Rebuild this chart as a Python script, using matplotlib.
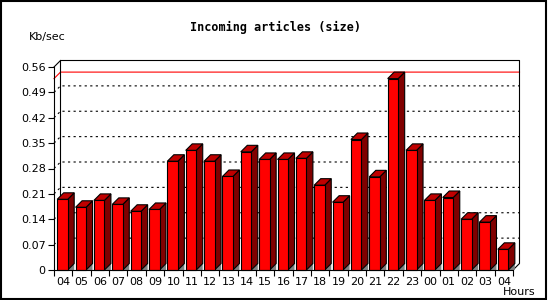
import numpy as np
import matplotlib
matplotlib.use("Agg")
import matplotlib.pyplot as plt
from matplotlib.patches import Polygon, Rectangle

# hours shown on the x axis
hours = ["04", "05", "06", "07", "08", "09", "10", "11", "12", "13", "14", "15",
         "16", "17", "18", "19", "20", "21", "22", "23", "00", "01", "02", "03", "04"]
# incoming article size, Kb/sec
kbps = [0.195, 0.173, 0.192, 0.181, 0.162, 0.167, 0.300, 0.330, 0.300, 0.258,
        0.326, 0.305, 0.305, 0.308, 0.234, 0.187, 0.360, 0.257, 0.528, 0.330,
        0.192, 0.200, 0.140, 0.132, 0.057]
yticks = [0, 0.07, 0.14, 0.21, 0.28, 0.35, 0.42, 0.49, 0.56]
ytick_labels = ["0", "0.07", "0.14", "0.21", "0.28", "0.35", "0.42", "0.49", "0.56"]

W, H = 550, 300
fig = plt.figure(figsize=(W / 100, H / 100), dpi=100)
fig.patch.set_facecolor("white")

# plot area in pixels (front plane)
L, R, T, B = 54, 513, 67, 270
ax = fig.add_axes([L / W, 1 - B / H, (R - L) / W, (B - T) / H])
n = len(kbps)
ymax = yticks[-1]
ax.set_xlim(0, n)
ax.set_ylim(0, ymax)
ax.set_facecolor("none")

# 3d depth (pixels -> data units)
depth = 6.5
dx = depth * n / (R - L)
dy = depth * ymax / (B - T)

lw = 0.8
# back wall dotted grid + diagonal on the left wall
for v in yticks[1:-1]:
    ax.plot([0, dx, n + dx], [v, v + dy, v + dy], color="black", lw=lw,
            ls=(0, (2, 3)), clip_on=False, zorder=1)

# max line in red
vmax = max(kbps)
ax.plot([0, dx, n + dx], [vmax, vmax + dy, vmax + dy], color="#ff0000", lw=lw,
        clip_on=False, zorder=2)

# back wall outline
ax.plot([dx, dx, n + dx, n + dx, n], [dy, ymax + dy, ymax + dy, dy, 0],
        color="black", lw=lw, clip_on=False, zorder=2)
ax.plot([0, dx], [ymax, ymax + dy], color="black", lw=lw, clip_on=False, zorder=2)

# bars
a = 3.2 * n / (R - L)
w = 10.5 * n / (R - L)
for i, v in enumerate(kbps):
    x0 = i + a
    x1 = x0 + w
    shadow = Polygon([(x1, 0), (x1 + dx, dy), (x1 + dx, 0)], closed=True,
                     facecolor="#808080", edgecolor="none", zorder=3, clip_on=False)
    side = Polygon([(x1, 0), (x1 + dx, dy), (x1 + dx, v + dy), (x1, v)], closed=True,
                   facecolor="#800000", edgecolor="black", lw=lw, zorder=4, clip_on=False)
    top = Polygon([(x0, v), (x0 + dx, v + dy), (x1 + dx, v + dy), (x1, v)], closed=True,
                  facecolor="#c00000", edgecolor="black", lw=lw, zorder=4, clip_on=False)
    front = Rectangle((x0, 0), w, v, facecolor="#ff0000", edgecolor="black",
                      lw=lw, zorder=5, clip_on=False)
    for p in (shadow, side, top, front):
        ax.add_patch(p)

# axes
for s in ("top", "right"):
    ax.spines[s].set_visible(False)
for s in ("left", "bottom"):
    ax.spines[s].set_linewidth(lw)
    ax.spines[s].set_zorder(6)

ax.set_yticks(yticks)
ax.set_yticklabels(ytick_labels)
ax.set_xticks(np.arange(n + 1))
ax.set_xticklabels([])
ax.set_xticks(np.arange(n) + 0.5, minor=True)
ax.set_xticklabels(hours, minor=True)
ax.tick_params(axis="x", which="major", length=4, width=lw, direction="out")
ax.tick_params(axis="x", which="minor", length=0, pad=5, labelsize=8)
ax.tick_params(axis="y", length=4, width=lw, direction="out", pad=2, labelsize=8)

fig.text(276 / W, 1 - 27 / H, "Incoming articles (size)", ha="center", va="center",
         family="DejaVu Sans Mono", fontweight="bold", fontsize=8.5)
fig.text(47 / W, 1 - 37 / H, "Kb/sec", ha="center", va="center", fontsize=8)
fig.text(519 / W, 1 - 292 / H, "Hours", ha="center", va="center", fontsize=8)

# outer frame
fig.patches.append(Rectangle((0.5 / W, 1.5 / H), 545.5 / W, 297.5 / H, transform=fig.transFigure,
                             fill=False, edgecolor="black", lw=1.5))

fig.savefig("out.png", dpi=100)
